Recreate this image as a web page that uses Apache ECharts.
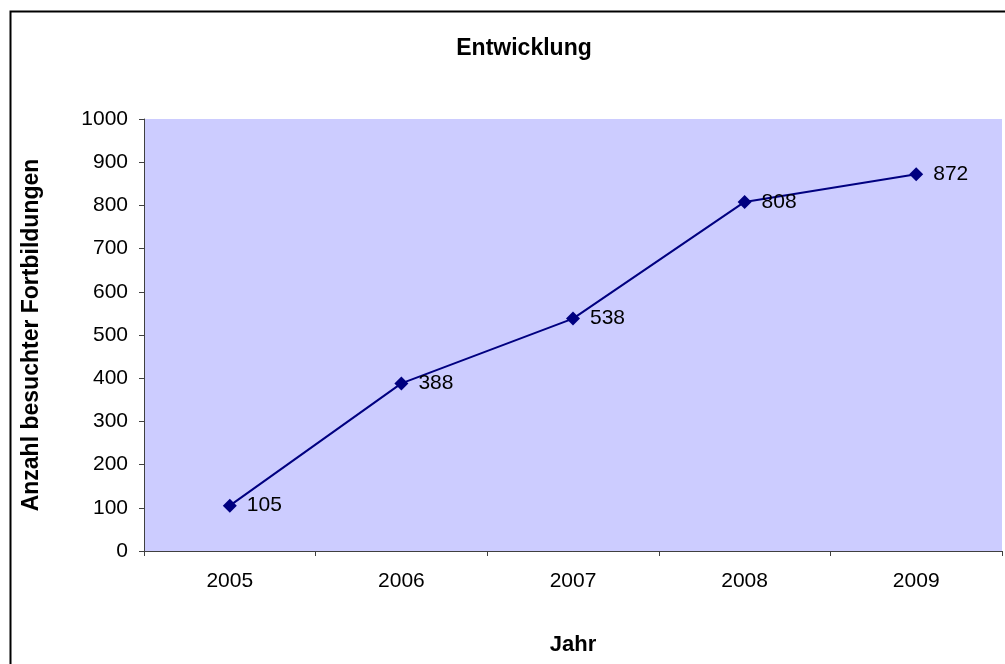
<!DOCTYPE html>
<html><head><meta charset="utf-8">
<script src="https://cdn.jsdelivr.net/npm/echarts@6/dist/echarts.min.js"></script>
<style>html,body{margin:0;padding:0;background:#fff}#c{width:1005px;height:664px}</style>
</head><body><div id="c"></div>
<script>
const categories = ['2005','2006','2007','2008','2009'];
const values = [105, 388, 538, 808, 872];
const titleText = 'Entwicklung';
const yName = 'Anzahl besuchter Fortbildungen';
const xName = 'Jahr';

const chart = echarts.init(document.getElementById('c'), null, {renderer:'canvas'});
const font = '"Liberation Sans", Arial, sans-serif';
chart.setOption({
  animation: false,
  backgroundColor: '#fff',
  graphic: [{
    type: 'rect', left: 8, top: 9, z: 100,
    shape: {x: 0, y: 0, width: 1100, height: 800},
    style: {fill: 'none', stroke: '#000', lineWidth: 2}
  }],
  title: {text: titleText, left: 519, textAlign: 'center', top: 32,
    textStyle: {fontFamily: font, fontSize: 23, fontWeight: 'bold', color: '#000'}},
  grid: {left: 144, right: 3, top: 119, bottom: 113, show: true,
    backgroundColor: '#CCCCFF', borderWidth: 0},
  xAxis: {
    type: 'category', data: categories, boundaryGap: true,
    name: xName, nameLocation: 'middle', nameGap: 83,
    nameTextStyle: {fontFamily: font, fontSize: 22, fontWeight: 'bold', color: '#000'},
    axisLine: {lineStyle: {color: '#404040', width: 1}},
    axisTick: {show: true, length: 5, inside: false, lineStyle: {color: '#404040'}},
    axisLabel: {fontFamily: font, fontSize: 21, color: '#000', margin: 20},
    splitLine: {show: false}
  },
  yAxis: {
    type: 'value', min: 0, max: 1000, interval: 100,
    name: yName, nameLocation: 'middle', nameGap: 101, nameRotate: 90,
    nameTextStyle: {fontFamily: font, fontSize: 23, fontWeight: 'bold', color: '#000'},
    axisLine: {show: true, lineStyle: {color: '#404040', width: 1}},
    axisTick: {show: true, length: 5, inside: false, lineStyle: {color: '#404040'}},
    axisLabel: {fontFamily: font, fontSize: 21, color: '#000', margin: 16,
      formatter: v => String(v)},
    splitLine: {show: false}
  },
  series: [{
    type: 'line', data: values,
    symbol: 'diamond', symbolSize: 14,
    lineStyle: {color: '#000080', width: 2},
    itemStyle: {color: '#000080'},
    label: {show: true, position: 'right', distance: 10,
      fontFamily: font, fontSize: 21, color: '#000'}
  }]
});
</script></body></html>
